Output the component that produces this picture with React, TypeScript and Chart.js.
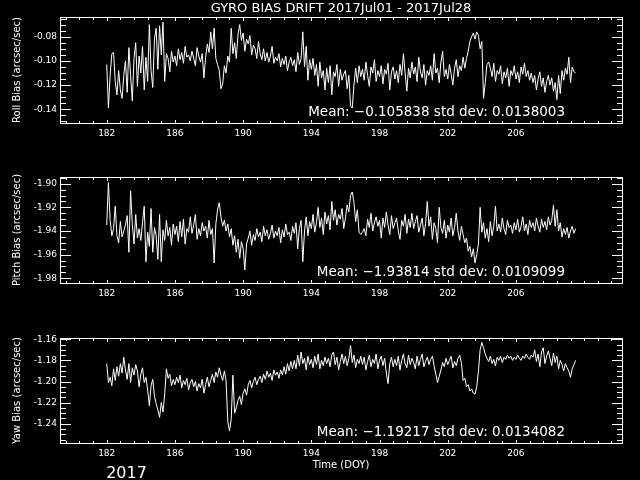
import React, { useEffect, useRef } from "react";
import { Chart, registerables } from "chart.js";

Chart.register(...registerables);

// ---- time sampling (DOY) ----
const START_DOY = 182.0;
const STEP_DAY = 0.1;
const X_MIN = 179.26;
const X_MAX = 212.22;
const X_MAJOR_LABELS = [182, 186, 190, 194, 198, 202, 206];

// ---- series values (arcsec/sec), one every 0.1 day from DOY 182.0 ----
const ROLL = [
  -0.103, -0.139, -0.112, -0.094, -0.093, -0.117, -0.128, -0.108, -0.124, -0.131,
  -0.112, -0.100, -0.126, -0.089, -0.112, -0.133, -0.098, -0.085, -0.121, -0.096,
  -0.110, -0.088, -0.124, -0.097, -0.117, -0.070, -0.108, -0.122, -0.082, -0.073,
  -0.107, -0.071, -0.095, -0.068, -0.117, -0.094, -0.098, -0.109, -0.092, -0.101,
  -0.096, -0.104, -0.090, -0.099, -0.093, -0.102, -0.088, -0.097, -0.095, -0.100,
  -0.092, -0.098, -0.104, -0.089, -0.096, -0.101, -0.094, -0.114, -0.097, -0.086,
  -0.093, -0.076, -0.090, -0.073, -0.098, -0.103, -0.108, -0.123, -0.119, -0.104,
  -0.110, -0.096, -0.101, -0.073, -0.094, -0.085, -0.098, -0.078, -0.070, -0.083,
  -0.077, -0.092, -0.082, -0.086, -0.079, -0.095, -0.087, -0.090, -0.098, -0.084,
  -0.094, -0.099, -0.090, -0.100, -0.093, -0.101, -0.096, -0.088, -0.102, -0.097,
  -0.100, -0.094, -0.105, -0.098, -0.103, -0.096, -0.108, -0.101, -0.097, -0.104,
  -0.099, -0.109, -0.093, -0.103, -0.098, -0.076, -0.105, -0.088, -0.116, -0.099,
  -0.107, -0.098, -0.112, -0.103, -0.121, -0.101, -0.114, -0.108, -0.124, -0.106,
  -0.118, -0.104, -0.128, -0.109, -0.113, -0.103, -0.121, -0.107, -0.116, -0.111,
  -0.108, -0.123, -0.112, -0.137, -0.139, -0.120, -0.106, -0.118, -0.104, -0.113,
  -0.107, -0.116, -0.101, -0.112, -0.121, -0.105, -0.110, -0.099, -0.117, -0.108,
  -0.113, -0.104, -0.119, -0.107, -0.111, -0.102, -0.124, -0.109, -0.105, -0.115,
  -0.108, -0.118, -0.103, -0.112, -0.094, -0.110, -0.125, -0.106, -0.114, -0.101,
  -0.111, -0.105, -0.117, -0.097, -0.109, -0.114, -0.103, -0.120, -0.108, -0.112,
  -0.104, -0.116, -0.094, -0.110, -0.106, -0.118, -0.101, -0.092, -0.113, -0.107,
  -0.115, -0.103, -0.111, -0.120, -0.106, -0.099, -0.113, -0.104, -0.108, -0.097,
  -0.106, -0.098, -0.092, -0.084, -0.080, -0.077, -0.082, -0.076, -0.079, -0.090,
  -0.084, -0.131, -0.118, -0.103, -0.101, -0.106, -0.113, -0.102, -0.117, -0.108,
  -0.111, -0.104, -0.119, -0.109, -0.114, -0.106, -0.121, -0.108, -0.112, -0.104,
  -0.115, -0.109, -0.118, -0.105, -0.111, -0.102, -0.113, -0.108, -0.116, -0.110,
  -0.118, -0.112, -0.124, -0.115, -0.109, -0.121, -0.114, -0.126, -0.117, -0.112,
  -0.120, -0.114, -0.125, -0.118, -0.132, -0.112, -0.127, -0.108, -0.116, -0.106,
  -0.111, -0.097, -0.118, -0.105, -0.109, -0.110,
];

const PITCH = [
  -1.935, -1.899, -1.931, -1.944, -1.938, -1.919, -1.944, -1.950, -1.932, -1.945,
  -1.940, -1.935, -1.927, -1.958, -1.906, -1.934, -1.951, -1.926, -1.946, -1.938,
  -1.948, -1.933, -1.919, -1.966, -1.941, -1.953, -1.921, -1.958, -1.937, -1.944,
  -1.964, -1.926, -1.966, -1.939, -1.948, -1.931, -1.944, -1.937, -1.952, -1.934,
  -1.943, -1.936, -1.949, -1.932, -1.945, -1.930, -1.951, -1.938, -1.941, -1.928,
  -1.942, -1.935, -1.926, -1.947, -1.938, -1.944, -1.933, -1.940, -1.936, -1.946,
  -1.931, -1.943, -1.938, -1.967, -1.934, -1.922, -1.916, -1.928, -1.936, -1.931,
  -1.940, -1.934, -1.945, -1.938, -1.952, -1.944, -1.958, -1.947, -1.963, -1.949,
  -1.955, -1.973, -1.951, -1.946, -1.940, -1.952, -1.943, -1.948, -1.938, -1.945,
  -1.941, -1.949, -1.936, -1.944, -1.939, -1.947, -1.942, -1.935, -1.946, -1.940,
  -1.944, -1.937, -1.950, -1.939, -1.945, -1.934, -1.943, -1.941, -1.948, -1.936,
  -1.942, -1.933, -1.955, -1.938, -1.931, -1.966, -1.940, -1.928, -1.944, -1.932,
  -1.938, -1.926, -1.941, -1.933, -1.920, -1.937, -1.929, -1.943, -1.924, -1.934,
  -1.927, -1.939, -1.915, -1.931, -1.922, -1.935, -1.926, -1.930, -1.921, -1.938,
  -1.929, -1.918, -1.924, -1.910, -1.907, -1.916, -1.932, -1.922, -1.941, -1.943,
  -1.941, -1.938, -1.944, -1.930, -1.937, -1.925, -1.940, -1.933, -1.928, -1.936,
  -1.931, -1.946, -1.929, -1.937, -1.924, -1.935, -1.943, -1.927, -1.938, -1.933,
  -1.929, -1.940, -1.947, -1.931, -1.936, -1.926, -1.942, -1.930, -1.937, -1.925,
  -1.938, -1.932, -1.927, -1.941, -1.935, -1.929, -1.944, -1.934, -1.915, -1.936,
  -1.928, -1.947, -1.933, -1.938, -1.950, -1.920, -1.937, -1.942, -1.931, -1.946,
  -1.935, -1.941, -1.929, -1.944, -1.937, -1.925, -1.940, -1.948, -1.936, -1.943,
  -1.950, -1.946, -1.957, -1.953, -1.962, -1.955, -1.967, -1.960, -1.951, -1.920,
  -1.941, -1.933, -1.946, -1.938, -1.949, -1.932, -1.944, -1.936, -1.919, -1.940,
  -1.934, -1.941, -1.929, -1.938, -1.943, -1.931, -1.937, -1.935, -1.942, -1.933,
  -1.939, -1.930, -1.941, -1.936, -1.928, -1.940, -1.934, -1.943, -1.931, -1.937,
  -1.933, -1.940, -1.929, -1.936, -1.941, -1.930, -1.937, -1.932, -1.939, -1.928,
  -1.935, -1.931, -1.918, -1.936, -1.922, -1.940, -1.933, -1.945, -1.938, -1.943,
  -1.937, -1.946, -1.940, -1.936, -1.942, -1.938,
];

const YAW = [
  -1.183, -1.201, -1.196, -1.204, -1.188, -1.199, -1.186, -1.195, -1.183, -1.192,
  -1.177, -1.189, -1.198, -1.183, -1.201, -1.187, -1.194, -1.184, -1.190, -1.205,
  -1.193, -1.187, -1.201, -1.196, -1.208, -1.223, -1.204, -1.198, -1.214, -1.221,
  -1.227, -1.234, -1.220, -1.229, -1.212, -1.188, -1.197, -1.193, -1.204, -1.198,
  -1.203, -1.196, -1.201, -1.194, -1.206, -1.199, -1.203, -1.197, -1.208, -1.201,
  -1.198, -1.205, -1.200, -1.209, -1.202, -1.206, -1.198, -1.211, -1.203, -1.196,
  -1.205, -1.199, -1.193, -1.201, -1.191, -1.196, -1.187, -1.194, -1.199, -1.190,
  -1.199, -1.238, -1.247, -1.236, -1.194, -1.230, -1.225, -1.218, -1.214, -1.222,
  -1.211, -1.207, -1.213, -1.203, -1.199, -1.206, -1.200, -1.196, -1.203, -1.198,
  -1.195, -1.201, -1.193, -1.198, -1.190, -1.196, -1.192, -1.199, -1.189, -1.194,
  -1.191, -1.197, -1.189, -1.194, -1.186, -1.193, -1.183, -1.190, -1.181, -1.188,
  -1.180, -1.188, -1.175, -1.185, -1.172, -1.183, -1.178, -1.189, -1.176, -1.184,
  -1.179, -1.187, -1.176, -1.184, -1.174, -1.188, -1.180, -1.185, -1.177, -1.183,
  -1.178, -1.186, -1.175, -1.172, -1.184, -1.177, -1.189, -1.181, -1.174, -1.183,
  -1.176, -1.185, -1.178, -1.166, -1.182, -1.175, -1.187, -1.179, -1.183, -1.176,
  -1.184, -1.177, -1.189, -1.181, -1.175, -1.186, -1.179, -1.183, -1.174, -1.188,
  -1.180, -1.176, -1.185, -1.178, -1.192, -1.202, -1.183, -1.177, -1.186, -1.179,
  -1.185, -1.176, -1.189, -1.180, -1.174, -1.183, -1.187, -1.175, -1.184, -1.178,
  -1.182, -1.188, -1.176, -1.185, -1.179, -1.174, -1.186, -1.181, -1.177, -1.184,
  -1.179, -1.176, -1.185, -1.193, -1.201, -1.195, -1.189, -1.182, -1.186, -1.178,
  -1.184, -1.180, -1.176, -1.187, -1.181, -1.185, -1.178, -1.175, -1.182, -1.199,
  -1.197, -1.205, -1.203, -1.209, -1.207, -1.211, -1.212, -1.205, -1.190, -1.170,
  -1.163, -1.168, -1.174, -1.178, -1.181, -1.176, -1.183, -1.179, -1.185, -1.177,
  -1.180, -1.176, -1.182, -1.177, -1.179, -1.175, -1.178, -1.176, -1.180, -1.177,
  -1.179, -1.175, -1.178, -1.180, -1.176, -1.178, -1.174, -1.177, -1.179, -1.175,
  -1.177, -1.170, -1.181, -1.174, -1.186, -1.172, -1.168, -1.183, -1.176, -1.171,
  -1.178, -1.185, -1.173, -1.182, -1.176, -1.188, -1.180, -1.184, -1.190, -1.183,
  -1.187, -1.190, -1.196, -1.188, -1.184, -1.180,
];

const Y_LABELS = ["Roll Bias (arcsec/sec)", "Pitch Bias (arcsec/sec)", "Yaw Bias (arcsec/sec)"];
const MEAN_TEXTS = [
  "Mean: \u22120.105838 std dev: 0.0138003",
  "Mean: \u22121.93814 std dev: 0.0109099",
  "Mean: \u22121.19217 std dev: 0.0134082",
];
const Y_RANGES = [
  [-0.15132, -0.06372],
  [-1.98397, -1.89433],
  [-1.25829, -1.15877],
];
const TITLE = "GYRO BIAS DRIFT 2017Jul01 - 2017Jul28";
const X_TITLE = "Time (DOY)";
const YEAR_TEXT = "2017";

const SERIES = [ROLL, PITCH, YAW];

const FONT = "'DejaVu Sans', sans-serif";
const Y_MINOR = 0.005;
const Y_MAJOR = 0.02;
const X_MINOR = 0.8;
const X_MAJOR = 4;

function isMultiple(v: number, step: number, base = 0) {
  const q = (v - base) / step;
  return Math.abs(q - Math.round(q)) < 1e-4;
}

function yTickValues(yMin: number, yMax: number) {
  const t: number[] = [];
  const k0 = Math.ceil(yMin / Y_MINOR - 1e-6);
  const k1 = Math.floor(yMax / Y_MINOR + 1e-6);
  for (let k = k0; k <= k1; k++) t.push(Math.round(k * Y_MINOR * 1e6) / 1e6);
  return t;
}

function xTickValues() {
  const t: number[] = [];
  const k0 = Math.ceil((X_MIN - 182) / X_MINOR - 1e-6);
  const k1 = Math.floor((X_MAX - 182) / X_MINOR + 1e-6);
  for (let k = k0; k <= k1; k++) t.push(+(182 + k * X_MINOR).toFixed(3));
  return t;
}

function isXMajor(v: number) {
  return isMultiple(v, X_MAJOR, 182) && X_MAJOR_LABELS.includes(Math.round(v));
}

function Panel({ index }: { index: number }) {
  const ref = useRef<HTMLCanvasElement>(null);
  useEffect(() => {
    const canvas = ref.current;
    if (!canvas) return;
    const values = SERIES[index];
    const [yMin, yMax] = Y_RANGES[index];
    const plotTop = index === 2 ? 18 : 17;
    const plotBottom = 123;
    const points = values.map((v, i) => ({ x: +(START_DOY + i * STEP_DAY).toFixed(2), y: v }));
    const yTicks = yTickValues(yMin, yMax);
    const xTicks = xTickValues();

    const framePlugin = {
      id: "frame" + index,
      afterDraw(chart: any) {
        const ctx: CanvasRenderingContext2D = chart.ctx;
        const { left, right, top, bottom } = chart.chartArea;
        const xs = chart.scales.x;
        const ys = chart.scales.y;
        ctx.save();
        ctx.fillStyle = "#ffffff";
        const L = Math.round(left);
        const R = Math.round(right);
        const T = Math.round(top);
        const B = Math.round(bottom);
        // frame
        ctx.fillRect(L, T, R - L + 1, 1);
        ctx.fillRect(L, B, R - L + 1, 1);
        ctx.fillRect(L, T, 1, B - T + 1);
        ctx.fillRect(R, T, 1, B - T + 1);
        // y ticks (inward, both sides)
        for (const v of yTicks) {
          const py = Math.round(ys.getPixelForValue(v));
          if (py < T || py > B) continue;
          const len = isMultiple(v, Y_MAJOR) ? 11 : 6;
          ctx.fillRect(L, py, len, 1);
          ctx.fillRect(R - len + 1, py, len, 1);
        }
        // x ticks (inward, top and bottom)
        for (const v of xTicks) {
          const px = Math.round(xs.getPixelForValue(v));
          if (px < L || px > R) continue;
          const len = isXMajor(v) ? 4 : 3;
          ctx.fillRect(px, B - len + 1, 1, len);
          ctx.fillRect(px, T, 1, len);
        }

        ctx.textBaseline = "middle";
        ctx.font = "13.5px " + FONT;
        ctx.textAlign = "right";
        ctx.fillText(MEAN_TEXTS[index], 565, 112);
        const cx = (left + right) / 2;
        if (index === 0) {
          ctx.textAlign = "center";
          ctx.font = "13px " + FONT;
          ctx.fillText(TITLE, cx, 8.5);
        }
        if (index === 2) {
          ctx.textAlign = "center";
          ctx.font = "10px " + FONT;
          ctx.fillText(X_TITLE, cx, 145.5);
          ctx.font = "16px " + FONT;
          ctx.fillText(YEAR_TEXT, 126.5, 154);
        }
        ctx.restore();
      },
    };

    const chart = new Chart(canvas, {
      type: "line",
      data: {
        datasets: [
          {
            data: points,
            borderColor: "#ffffff",
            borderWidth: 1,
            pointRadius: 0,
            tension: 0,
            fill: false,
          },
        ],
      },
      options: {
        responsive: false,
        animation: false,
        devicePixelRatio: 1,
        events: [],
        layout: { padding: { left: 0, right: 18, top: plotTop, bottom: 0 } },
        plugins: { legend: { display: false }, tooltip: { enabled: false } },
        scales: {
          x: {
            type: "linear",
            min: X_MIN,
            max: X_MAX,
            grid: { display: false, drawTicks: false },
            border: { display: false },
            afterFit: (scale: any) => {
              scale.height = 160 - plotBottom;
            },
            afterBuildTicks: (scale: any) => {
              scale.ticks = xTicks.map((v) => ({ value: v }));
            },
            ticks: {
              color: "#ffffff",
              autoSkip: false,
              maxRotation: 0,
              padding: 5,
              font: { family: FONT, size: 9 },
              callback: (v: any) => {
                const n = Number(v);
                return isXMajor(n) ? String(Math.round(n)) : "";
              },
            },
          },
          y: {
            type: "linear",
            min: yMin,
            max: yMax,
            grid: { display: false, drawTicks: false },
            border: { display: false },
            afterFit: (scale: any) => {
              scale.width = 60;
            },
            afterBuildTicks: (scale: any) => {
              scale.ticks = yTicks.map((v) => ({ value: v }));
            },
            ticks: {
              color: "#ffffff",
              autoSkip: false,
              padding: 3,
              font: { family: FONT, size: 9 },
              callback: (v: any) => {
                const n = Number(v);
                return isMultiple(n, Y_MAJOR) ? n.toFixed(2) : "";
              },
            },
            title: {
              display: true,
              text: Y_LABELS[index],
              color: "#ffffff",
              font: { family: FONT, size: 10 },
              padding: { top: 11, bottom: 0 },
            },
          },
        },
      },
      plugins: [framePlugin],
    } as any);
    return () => chart.destroy();
  }, [index]);
  return (
    <canvas
      ref={ref}
      width={640}
      height={160}
      style={{ position: "absolute", left: 0, top: index * 160, width: 640, height: 160, display: "block" }}
    />
  );
}

export default function App() {
  return (
    <div
      style={{
        position: "fixed",
        left: 0,
        top: 0,
        width: 640,
        height: 480,
        background: "#000000",
        overflow: "hidden",
      }}
    >
      {[0, 1, 2].map((i) => (
        <Panel key={i} index={i} />
      ))}
    </div>
  );
}
